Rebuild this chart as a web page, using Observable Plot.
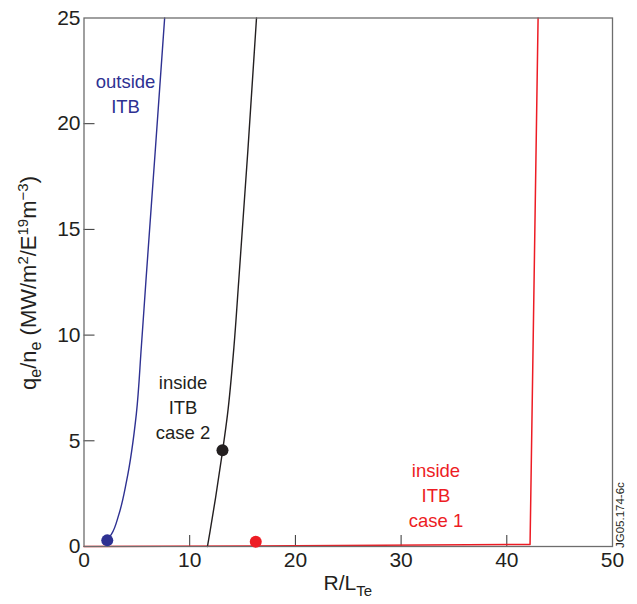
<!DOCTYPE html>
<html><head><meta charset="utf-8">
<script src="https://cdn.jsdelivr.net/npm/d3@7"></script>
<script src="https://cdn.jsdelivr.net/npm/@observablehq/plot@0.6"></script>
<style>body{margin:0;background:#fff;} svg{display:block;}</style>
</head><body><div id="chart"></div>
<script>
// Data
const blueX = [2.2, 2.6, 3.3, 4.03, 4.95, 5.42, 5.86, 6.74, 7.63];
const blueY = [0.29, 0.58, 1.52, 3.10, 6.26, 9.41, 12.57, 18.71, 25];
const blackX = [11.68, 11.93, 12.45, 13.12, 13.58, 14.18, 14.64, 15.5, 16.32];
const blackY = [0, 0.73, 2.31, 4.55, 6.26, 9.41, 12.57, 18.71, 25];
const redX = [0, 20, 42.2, 42.96];
const redY = [0, 0.03, 0.1, 25];
const dotX = [2.2, 13.1, 16.25];
const dotY = [0.29, 4.55, 0.23];
const dotSeries = ["outside", "case2", "case1"];
const labelText = ["outside\nITB", "inside\nITB\ncase 2", "inside\nITB\ncase 1"];
const labelX = [3.93, 9.37, 33.3];
const labelY = [22.52, 8.3, 4.11];
const xTicks = [0, 10, 20, 30, 40, 50];
const yTicks = [0, 5, 10, 15, 20, 25];

const colors = {outside: "#2e3192", case2: "#231f20", case1: "#ed1c24"};
const W = 637, H = 604, mL = 83.5, mR = 25, mT = 17.5, mB = 58;
const frameW = W - mL - mR, frameH = H - mT - mB;
const font = "'Liberation Sans', Arial, Helvetica, sans-serif";

const blue = blueX.map((x, i) => ({x, y: blueY[i]}));
const black = blackX.map((x, i) => ({x, y: blackY[i]}));
const red = redX.map((x, i) => ({x, y: redY[i]}));
const dots = dotX.map((x, i) => ({x, y: dotY[i], s: dotSeries[i]}));
const labels = labelText.map((t, i) => ({t, x: labelX[i], y: labelY[i], s: dotSeries[i]}));
const innerX = xTicks.slice(1, -1), innerY = yTicks.slice(1, -1);

const svg = Plot.plot({
  width: W, height: H,
  marginLeft: mL, marginRight: mR, marginTop: mT, marginBottom: mB,
  style: {fontFamily: font, background: "#fff"},
  x: {domain: [0, 50]},
  y: {domain: [0, 25]},
  marks: [
    Plot.axisX({ticks: xTicks, tickSize: 0, tickPadding: 6, fontSize: 21, label: null, fill: "#231f20"}),
    Plot.axisY({ticks: yTicks, tickSize: 0, tickPadding: 3.5, fontSize: 21, label: null, fill: "#231f20"}),
    Plot.tickX(innerX, {x: d => d, insetTop: frameH - 11, stroke: "#333", strokeWidth: 1}),
    Plot.tickY(innerY, {y: d => d, insetRight: frameW - 11, stroke: "#333", strokeWidth: 1}),
    Plot.line(red, {x: "x", y: "y", stroke: colors.case1, strokeWidth: 1.5}),
    Plot.line(blue, {x: "x", y: "y", stroke: colors.outside, strokeWidth: 1.4, curve: "monotone-y"}),
    Plot.line(black, {x: "x", y: "y", stroke: colors.case2, strokeWidth: 1.4, curve: "monotone-y"}),
    Plot.frame({stroke: "#6d6d6d", strokeWidth: 1.3}),
    Plot.dot(dots, {x: "x", y: "y", r: 6, fill: d => colors[d.s], stroke: "none"}),
    Plot.text(labels, {x: "x", y: "y", text: "t", fill: d => colors[d.s], fontSize: 18.5, lineAnchor: "top", lineHeight: 1.35, textAnchor: "middle"})
  ]
});

const s = d3.select(svg);
// x-axis label R/L_Te
const xl = s.append("text").attr("x", mL + frameW / 2).attr("y", 590)
  .attr("text-anchor", "middle").attr("font-size", 21).attr("font-family", font).attr("fill", "#231f20");
xl.append("tspan").text("R/L");
xl.append("tspan").attr("dy", 6).attr("font-size", 15).text("Te");

// y-axis label
const yl = s.append("text").attr("transform", `translate(36,283) rotate(-90)`)
  .attr("text-anchor", "middle").attr("font-size", 22).attr("font-family", font).attr("fill", "#231f20");
yl.append("tspan").text("q");
yl.append("tspan").attr("dy", 5).attr("font-size", 16).text("e");
yl.append("tspan").attr("dy", -5).text("/n");
yl.append("tspan").attr("dy", 5).attr("font-size", 16).text("e");
yl.append("tspan").attr("dy", -5).text(" (MW/m");
yl.append("tspan").attr("dy", -8).attr("font-size", 15).text("2");
yl.append("tspan").attr("dy", 8).text("/E");
yl.append("tspan").attr("dy", -8).attr("font-size", 15).text("19");
yl.append("tspan").attr("dy", 8).text("m");
yl.append("tspan").attr("dy", -8).attr("font-size", 15).text("\u22123");
yl.append("tspan").attr("dy", 8).text(")");

// figure code
s.append("text").attr("transform", "translate(624,548) rotate(-90)")
  .attr("text-anchor", "start").attr("font-size", 11.5).attr("font-family", font).attr("fill", "#231f20")
  .text("JG05.174-6c");

document.getElementById("chart").appendChild(svg);
</script>
</body></html>
